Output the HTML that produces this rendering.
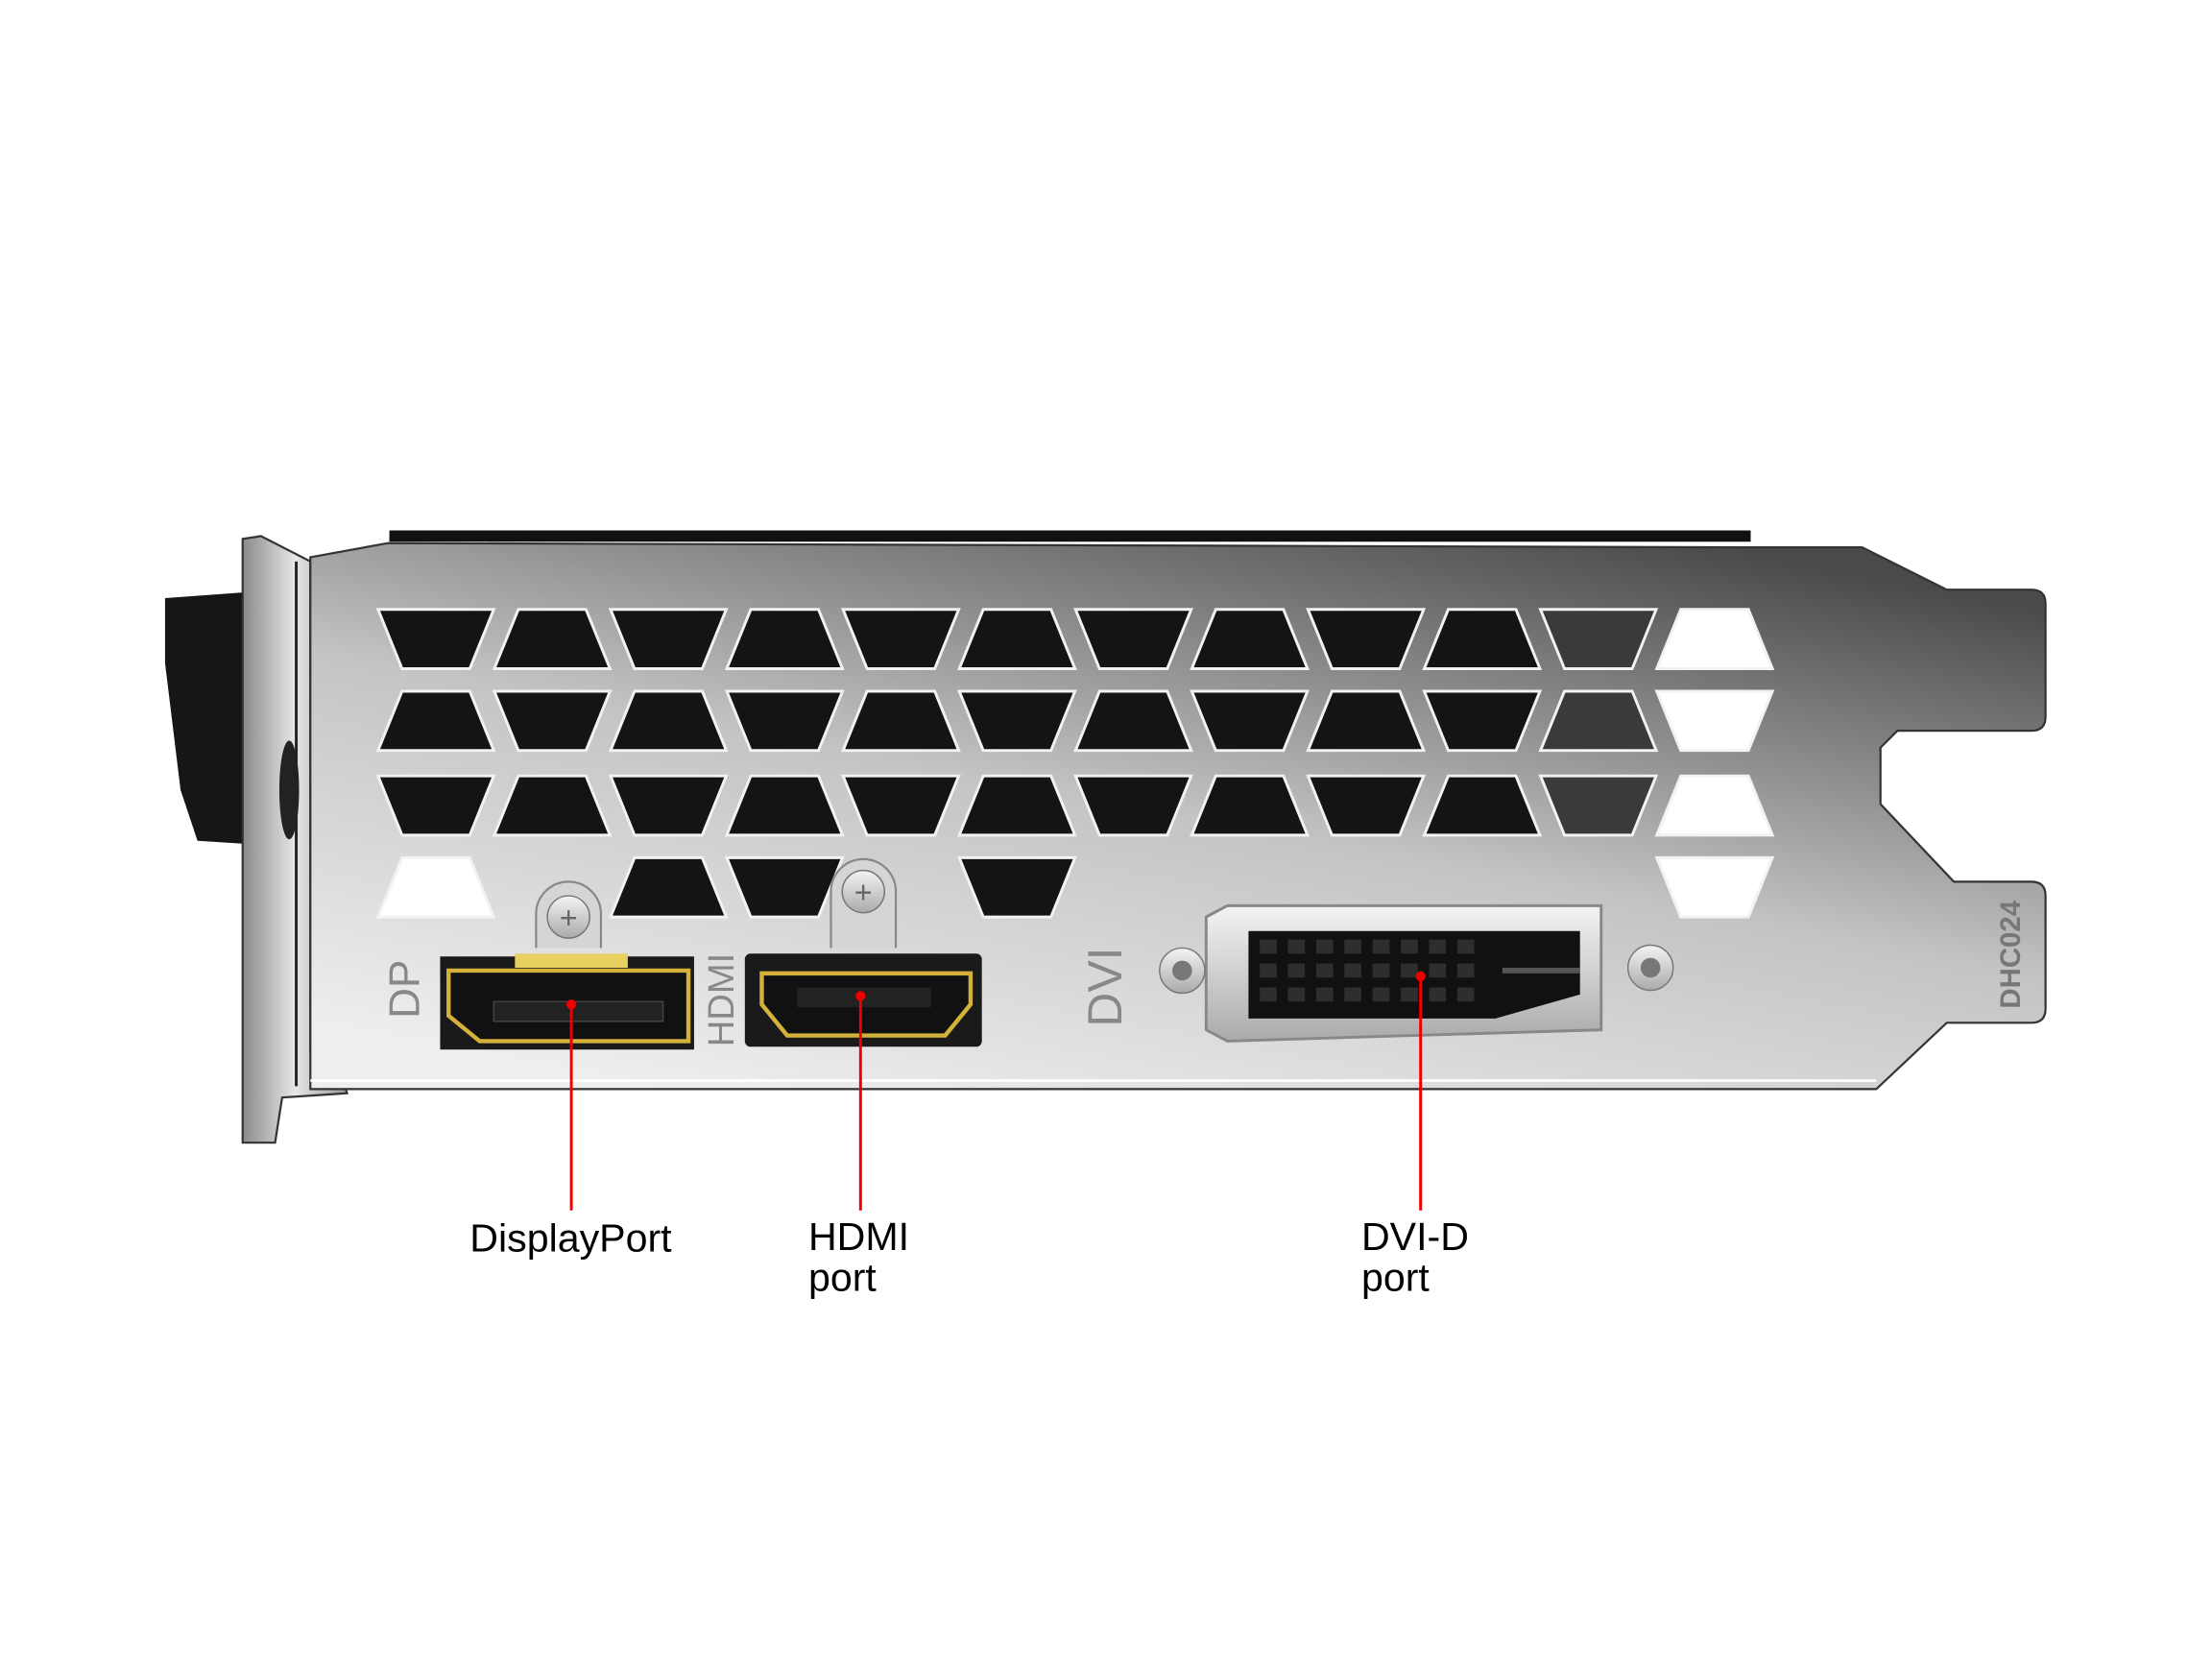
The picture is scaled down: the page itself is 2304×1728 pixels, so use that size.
<!DOCTYPE html>
<html><head><meta charset="utf-8"><style>
html,body{margin:0;padding:0;background:#fff}
svg{display:block}
</style></head><body>
<svg width="2304" height="1728" viewBox="0 0 1568 1176" xmlns="http://www.w3.org/2000/svg">
<defs>
<linearGradient id="pl" x1="0.2" y1="1" x2="0.8" y2="0">
<stop offset="0" stop-color="#eeeeee"/><stop offset="0.5" stop-color="#c4c4c4"/><stop offset="1" stop-color="#4a4a4a"/>
</linearGradient>
<linearGradient id="tab" x1="0" y1="0" x2="1" y2="0">
<stop offset="0" stop-color="#8a8a8a"/><stop offset="0.5" stop-color="#e6e6e6"/><stop offset="1" stop-color="#999"/>
</linearGradient>
<linearGradient id="met" x1="0" y1="0" x2="0" y2="1">
<stop offset="0" stop-color="#f4f4f4"/><stop offset="1" stop-color="#aaa"/>
</linearGradient>
</defs>
<rect width="1568" height="1176" fill="#fff"/>
<path d="M117,424 L172,420 L172,598 L140,596 L128,560 L117,470 Z" fill="#161616"/>
<path d="M172,382 L185,380 L220,398 L220,745 L240,755 L246,775 L200,778 L195,810 L172,810 Z" fill="url(#tab)" stroke="#333" stroke-width="1.5"/>
<line x1="210" y1="398" x2="210" y2="770" stroke="#222" stroke-width="2"/>
<ellipse cx="205" cy="560" rx="7" ry="35" fill="#222"/>
<path d="M220,395 L275,385 L1240,388 L1320,388 L1380,418 L1440,418 Q1450,418 1450,428 L1450,508 Q1450,518 1440,518 L1345,518 L1333,530 L1333,570 L1385,625 L1440,625 Q1450,625 1450,635 L1450,715 Q1450,725 1440,725 L1380,725 L1330,772 L220,772 Z" fill="url(#pl)" stroke="#333" stroke-width="1.5"/>
<rect x="276" y="376" width="965" height="8" fill="#111"/>
<line x1="220" y1="766" x2="1330" y2="766" stroke="#fff" stroke-width="2"/>
<g id="holes" stroke="#f2f2f2" stroke-width="2"></g>
<path d="M380,672 L380,648 A23,23 0 0 1 426,648 L426,672" fill="#d5d5d5" stroke="#888" stroke-width="1.5"/>
<circle cx="403" cy="650" r="15" fill="url(#met)" stroke="#777"/>
<text x="403" y="658" font-family="Liberation Sans,sans-serif" font-size="22" text-anchor="middle" fill="#666">+</text>
<path d="M589,672 L589,632 A23,23 0 0 1 635,632 L635,672" fill="#d5d5d5" stroke="#888" stroke-width="1.5"/>
<circle cx="612" cy="632" r="15" fill="url(#met)" stroke="#777"/>
<text x="612" y="640" font-family="Liberation Sans,sans-serif" font-size="22" text-anchor="middle" fill="#666">+</text>
<rect x="312" y="678" width="180" height="66" fill="#1a1a1a"/>
<rect x="365" y="676" width="80" height="10" fill="#e8d060"/>
<path d="M318,705 L318,688 L488,688 L488,738 L340,738 L318,720 Z" fill="#111" stroke="#d4b23a" stroke-width="3"/>
<rect x="350" y="710" width="120" height="14" fill="#222" stroke="#444"/>
<text transform="translate(297,722) rotate(-90)" font-family="Liberation Sans,sans-serif" font-size="30" fill="#888">DP</text>
<text transform="translate(520,742) rotate(-90)" font-family="Liberation Sans,sans-serif" font-size="26" fill="#888">HDMI</text>
<rect x="528" y="676" width="168" height="66" rx="4" fill="#1a1a1a"/>
<path d="M540,690 L688,690 L688,712 L670,734 L558,734 L540,712 Z" fill="#111" stroke="#d4b23a" stroke-width="3"/>
<rect x="565" y="700" width="95" height="14" fill="#222"/>
<text transform="translate(795,728) rotate(-90)" font-family="Liberation Sans,sans-serif" font-size="34" fill="#888">DVI</text>
<path d="M855,650 L870,642 L1135,642 L1135,730 L870,738 L855,730 Z" fill="url(#met)" stroke="#888" stroke-width="2"/>
<path d="M885,660 L1120,660 L1120,705 L1060,722 L885,722 Z" fill="#111"/>
<rect x="1065" y="686" width="55" height="4" fill="#555"/>
<g fill="#2c2c2c" id="pins"></g>
<circle cx="838" cy="688" r="16" fill="url(#met)" stroke="#777"/><circle cx="838" cy="688" r="7" fill="#777"/>
<circle cx="1170" cy="686" r="16" fill="url(#met)" stroke="#777"/><circle cx="1170" cy="686" r="7" fill="#777"/>
<text transform="translate(1432,715) rotate(-90)" font-family="Liberation Sans,sans-serif" font-size="20" font-weight="bold" fill="#777">DHC024</text>
<g stroke="#e00" stroke-width="2">
<line x1="405" y1="712" x2="405" y2="858"/>
<line x1="610" y1="706" x2="610" y2="858"/>
<line x1="1007" y1="692" x2="1007" y2="858"/>
</g>
<g fill="#e00"><circle cx="405" cy="712" r="3.5"/><circle cx="610" cy="706" r="3.5"/><circle cx="1007" cy="692" r="3.5"/></g>
<g font-family="Liberation Sans,sans-serif" font-size="28" fill="#000">
<text x="333" y="887">DisplayPort</text>
<text x="573" y="886">HDMI</text><text x="573" y="915">port</text>
<text x="965" y="886">DVI-D</text><text x="965" y="915">port</text>
</g>
</svg>
<script>
var ns="http://www.w3.org/2000/svg",g=document.getElementById("holes");
var rows=[[432,474,0],[490,532,1],[550,592,0],[608,650,1]];
function hole(i,r){
 var cx=309+82.4*i,y1=rows[r][0],y2=rows[r][1],inv=(rows[r][2]+i)%2;
 var wt=inv?24:41,wb=inv?41:24;
 var p=document.createElementNS(ns,"polygon");
 p.setAttribute("points",(cx-wt)+","+y1+" "+(cx+wt)+","+y1+" "+(cx+wb)+","+y2+" "+(cx-wb)+","+y2);
 var f="#141414"; if(i==11||(r==3&&i==0)) f="#fff"; else if(i==10) f="#3a3a3a";
 p.setAttribute("fill",f); g.appendChild(p);
}
for(var r=0;r<3;r++)for(var i=0;i<12;i++)hole(i,r);
[0,2,3,5,11].forEach(function(i){hole(i,3)});
var pg=document.getElementById("pins");
for(var a=0;a<3;a++)for(var b=0;b<8;b++){var q=document.createElementNS(ns,"rect");q.setAttribute("x",893+b*20);q.setAttribute("y",666+a*17);q.setAttribute("width",12);q.setAttribute("height",10);q.setAttribute("fill","#2e2e2e");pg.appendChild(q);}
</script>
</body></html>
